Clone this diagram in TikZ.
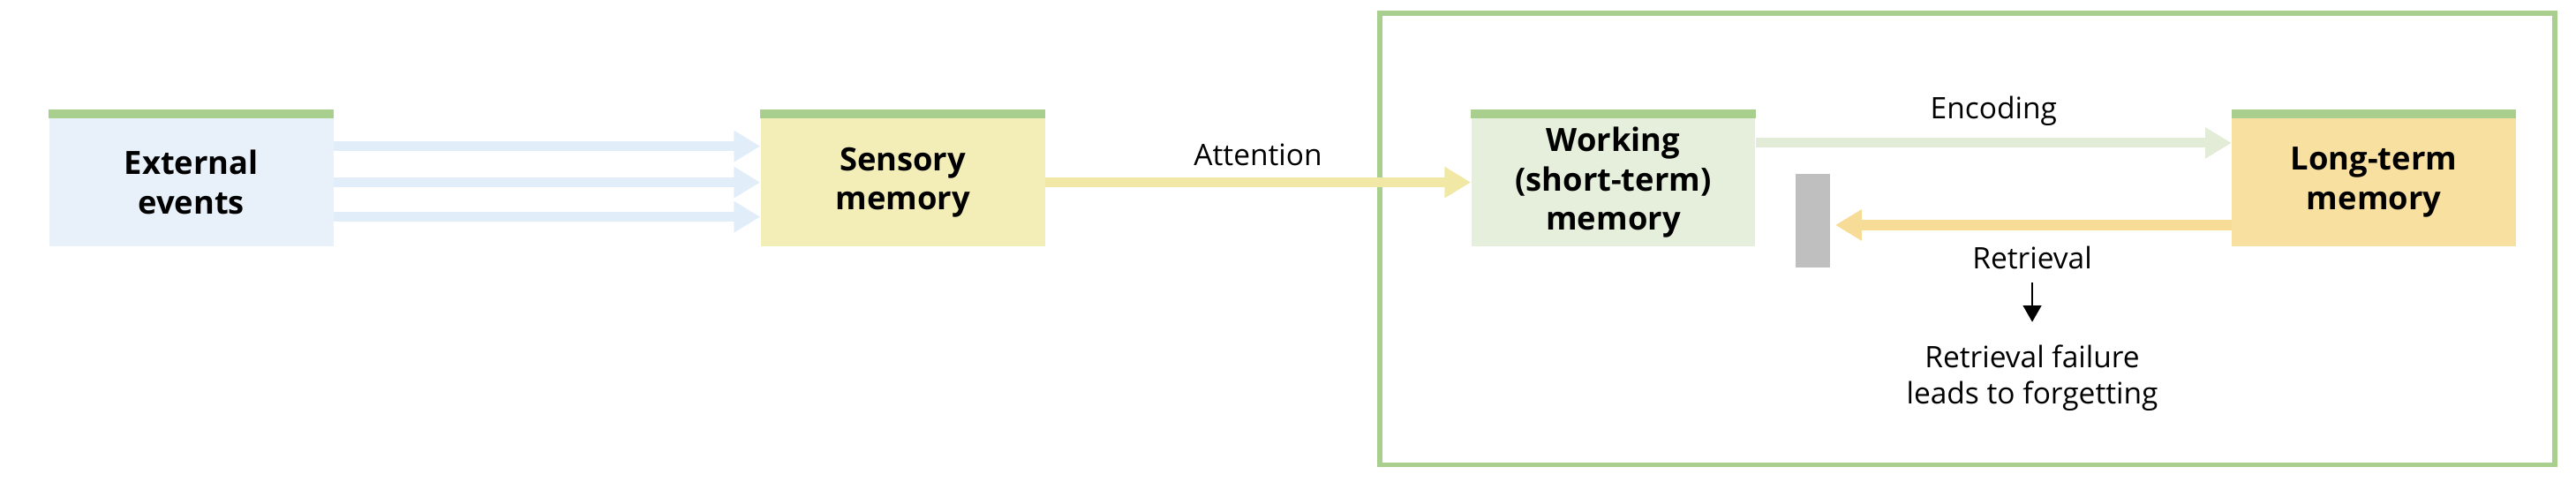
\documentclass[tikz,border=0pt]{standalone}
\usepackage{fontspec}
\setmainfont{Open Sans}
\usetikzlibrary{arrows.meta}
\definecolor{gbar}{HTML}{A8CF8E}
\definecolor{cblue}{HTML}{E8F1FA}
\definecolor{cyel}{HTML}{F3EDB8}
\definecolor{cgrn}{HTML}{E6EFDC}
\definecolor{corg}{HTML}{F7E0A0}
\definecolor{ablue}{HTML}{E2EDFA}
\definecolor{ayel}{HTML}{F1E8A6}
\definecolor{agrn}{HTML}{E2ECD6}
\definecolor{aorg}{HTML}{F6DC96}
\tikzset{
 box/.style={minimum width=173pt,minimum height=78pt,inner sep=0pt,align=center,font=\fontsize{19.5}{24}\selectfont\bfseries,
   append after command={\pgfextra{\fill[gbar] (\tikzlastnode.north west) rectangle ([yshift=5pt]\tikzlastnode.north east);}}},
 flow/.style={line width=6pt,-{Triangle[length=16pt,width=18pt]}},
 lbl/.style={font=\fontsize{18}{22}\selectfont,align=center}
}
\begin{document}
\begin{tikzpicture}[x=1pt,y=1pt]
\useasboundingbox (0,0) rectangle (1568,293);
\draw[gbar,line width=3pt] (840,10) rectangle (1555,285);
\node[box,fill=cblue] (ext) at (116.5,182) {External\\events};
\node[box,fill=cyel] (sen) at (549.5,182) {Sensory\\memory};
\node[box,fill=cgrn] (wm) at (982,182) {Working\\(short-term)\\memory};
\node[box,fill=corg] (ltm) at (1445,182) {Long-term\\memory};
\foreach \d in {22,0,-21}
  \draw[flow,ablue] ([yshift=\d pt]ext.east) -- ([yshift=\d pt]sen.west);
\draw[flow,ayel] (sen.east) -- (wm.west) node[lbl,black,midway,above=4pt] {Attention};
\draw[flow,agrn] ([yshift=24pt]wm.east) -- ([yshift=24pt]ltm.west) node[lbl,black,midway,above=4pt] {Encoding};
\node[fill=black!25,minimum width=21pt,minimum height=57pt,inner sep=0pt] (bar) at (1103.5,158.5) {};
\coordinate (rs) at ([yshift=-26pt]ltm.west);
\coordinate (re) at ([xshift=3pt]bar.east |- rs);
\draw[flow,aorg] (rs) -- (re);
\node[lbl] (ret) at (1237,136) {Retrieval};
\node[lbl] (fail) at (1237,63) {Retrieval failure\\leads to forgetting};
\coordinate (a1) at (1237,121);
\coordinate (a2) at (1237,97);
\draw[line width=1.5pt,-{Triangle[length=10pt,width=11pt]}] (a1) -- (a2);
\end{tikzpicture}
\end{document}
